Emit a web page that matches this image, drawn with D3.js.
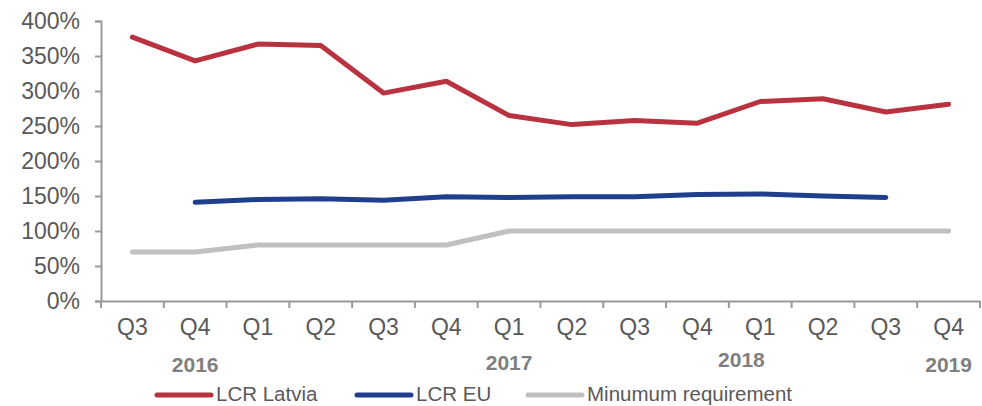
<!DOCTYPE html>
<html><head><meta charset="utf-8">
<script src="https://cdn.jsdelivr.net/npm/d3@7"></script>
<style>body{margin:0;background:#fff}svg{display:block;font-family:"Liberation Sans",Arial,sans-serif}</style>
</head><body><svg id="c" width="982" height="406"></svg>
<script>
const quarters = ["Q3","Q4","Q1","Q2","Q3","Q4","Q1","Q2","Q3","Q4","Q1","Q2","Q3","Q4"];
const yearLabels = ["2016","2017","2018","2019"];
const yearAtIndex = [1, 6, 9.7, 13];
const lcrLatvia = [377,343,367,365,297,314,265,252,258,254,285,289,270,281];
const lcrEU = [null,141,145,146,144,149,148,149,149,152,153,150,148,null];
const minReq = [70,70,80,80,80,80,100,100,100,100,100,100,100,100];
const yTicks = [0,50,100,150,200,250,300,350,400];
const seriesNames = ["LCR Latvia","LCR EU","Minumum requirement"];
const colors = ["#B8333F","#1F3F8D","#C0C0C0"];

const svg = d3.select("#c");
const m = {l:101, r:2, t:21, b:105};
const W = 982, H = 406;
const x = d3.scaleBand().domain(d3.range(quarters.length)).range([m.l, W - m.r]);
const y = d3.scaleLinear().domain([0,400]).range([H - m.b, m.t]);
const axisColor = "#9a9a9a", textColor = "#595959";

// y axis
const ya = svg.append("g").attr("transform",`translate(${m.l},0)`)
  .call(d3.axisLeft(y).tickValues(yTicks).tickFormat(d=>d+"%").tickSize(6).tickPadding(15));
ya.select(".domain").attr("stroke",axisColor).attr("stroke-width",2);
ya.selectAll(".tick line").attr("stroke",axisColor).attr("stroke-width",2);
ya.selectAll("text").attr("fill",textColor).attr("font-size",23).attr("font-family","Liberation Sans, Arial, sans-serif");

// x axis
const xa = svg.append("g").attr("transform",`translate(0,${y(0)})`)
  .call(d3.axisBottom(x).tickFormat(i=>quarters[i]).tickSize(0).tickPadding(18));
xa.select(".domain").attr("stroke",axisColor).attr("stroke-width",2);
xa.selectAll("text").attr("fill",textColor).attr("font-size",23).attr("font-family","Liberation Sans, Arial, sans-serif");
// tick marks at band boundaries
const bounds = d3.range(quarters.length+1).map(i => i < quarters.length ? x(i) : x(quarters.length-1)+x.bandwidth());
svg.append("g").selectAll("line").data(bounds).join("line")
  .attr("x1",d=>d).attr("x2",d=>d).attr("y1",y(0)).attr("y2",y(0)+7)
  .attr("stroke",axisColor).attr("stroke-width",2);

// year labels
const cx = i => m.l + (i + 0.5) * x.step();
const yearDy = [365, 363, 360, 365];
svg.append("g").selectAll("text").data(yearLabels).join("text")
  .attr("x",(d,i)=>cx(yearAtIndex[i])).attr("y",(d,i)=>yearDy[i]+7)
  .attr("text-anchor","middle").attr("font-size",21).attr("font-weight","bold")
  .attr("fill","#7f7f7f").text(d=>d);

// lines
const line = d3.line().defined(d=>d.v!=null).x(d=>x(d.i)+x.bandwidth()/2).y(d=>y(d.v));
const series = [lcrLatvia, lcrEU, minReq];
[2,1,0].forEach(k=>{
  svg.append("path").datum(series[k].map((v,i)=>({i,v})))
    .attr("d",line).attr("fill","none").attr("stroke",colors[k])
    .attr("stroke-width",5).attr("stroke-linecap","round").attr("stroke-linejoin","round");
});

// legend
const legX = [157, 357, 528];
const legY = 395;
const lg = svg.append("g");
seriesNames.forEach((n,k)=>{
  lg.append("line").attr("x1",legX[k]).attr("x2",legX[k]+54).attr("y1",legY).attr("y2",legY)
    .attr("stroke",colors[k]).attr("stroke-width",5).attr("stroke-linecap","round");
  lg.append("text").attr("x",legX[k]+59).attr("y",legY+6).attr("font-size",20.5)
    .attr("fill",textColor).text(n);
});
</script></body></html>
